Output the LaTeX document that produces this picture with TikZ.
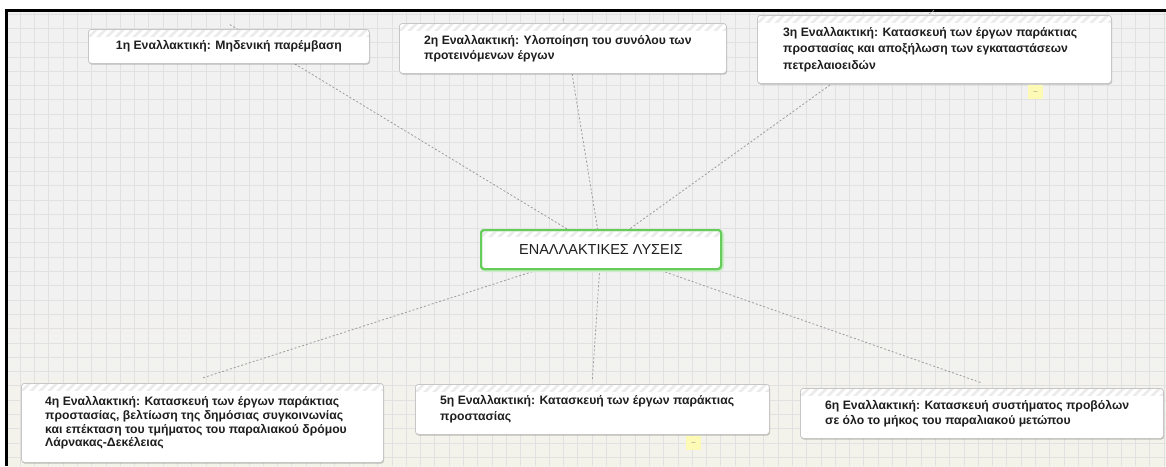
\documentclass[tikz,border=0pt]{standalone}
\usepackage{fontspec}
\setmainfont{Liberation Sans}
\usetikzlibrary{shadows}
\pgfdeclarelayer{bgzero}
\pgfdeclarelayer{bgone}
\pgfsetlayers{bgzero,bgone,main}

\definecolor{bgc}{HTML}{F1F1F1}
\definecolor{bgwarm}{HTML}{F4F3EA}
\definecolor{gridc}{HTML}{E1E1E1}
\definecolor{boxline}{HTML}{C6C6C6}
\definecolor{linkc}{HTML}{9C9C9C}
\definecolor{greenb}{HTML}{66CC5A}
\definecolor{stripec}{HTML}{EBEBEB}
\definecolor{txt}{HTML}{1E1E1E}
\definecolor{yel}{HTML}{FCFAB4}

\newcommand\stripebar[1]{%
  \begin{scope}
    \clip ([xshift=1pt,yshift=-1pt]#1.north west) rectangle ([xshift=-1pt,yshift=-7pt]#1.north east);
    \foreach \k in {0,...,44}
      \draw[stripec, line width=2.6pt] ([xshift=\k*9pt-10pt, yshift=-10pt]#1.north west) -- ++(10pt,10pt);
  \end{scope}}

\begin{document}
\begin{tikzpicture}[x=1pt,y=-1pt,
  box/.style={draw=boxline, line width=0.8pt, fill=white, rounded corners=3pt,
    drop shadow={shadow xshift=0.6pt, shadow yshift=-1.2pt, opacity=0.22, fill=black},
    anchor=north west, inner sep=0pt},
  boxtext/.style={anchor=west, inner sep=0pt, align=left, text=txt,
    font=\bfseries\fontsize{12.2}{15}\selectfont},
  centerbox/.style={draw=greenb, line width=2pt, fill=white, rounded corners=3pt,
    anchor=north west, inner sep=0pt, text=txt, font=\fontsize{14.5}{17}\selectfont},
  link/.style={draw=linkc, line width=0.8pt, dash pattern=on 2pt off 2pt},
  marker/.style={fill=yel, minimum width=15pt, minimum height=14pt, inner sep=0pt,
    text=gray, font=\fontsize{7}{7}\selectfont}
]
\useasboundingbox (0,0) rectangle (1166,466);

% background
\begin{pgfonlayer}{bgzero}
  \fill[white] (0,0) rectangle (1166,466);
  \fill[bgc] (7,11) rectangle (1166,466);
  \shade[top color=bgc, bottom color=bgwarm] (7,290) rectangle (1166,466);
  \foreach \i in {0,...,81}
    \draw[gridc, line width=0.8pt] ({5.8+\i*14.3},11) -- ({5.8+\i*14.3},466);
  \foreach \j in {0,...,32}
    \draw[gridc, line width=0.8pt] (7,{14+\j*14.3}) -- (1166,{14+\j*14.3});
  \fill[black] (5,9) rectangle (1166,11.5);
  \fill[black] (5,9) rectangle (7.5,466);
\end{pgfonlayer}

% boxes
\node[box, minimum width=281pt, minimum height=34pt] (n1) at (88,29) {};
\node[boxtext, anchor=center, align=center] (n1t) at (n1.center) {1η Εναλλακτική: Μηδενική παρέμβαση};

\node[box, minimum width=327pt, minimum height=50pt] (n2) at (399,23) {};
\node[boxtext] (n2t) at ([xshift=25pt]n2.west) {2η Εναλλακτική: Υλοποίηση του συνόλου των\\προτεινόμενων έργων};

\node[box, minimum width=354pt, minimum height=68pt] (n3) at (757,15) {};
\node[boxtext, font=\bfseries\fontsize{12.2}{16.3}\selectfont] (n3t) at ([xshift=26pt]n3.west) {3η Εναλλακτική: Κατασκευή των έργων παράκτιας\\προστασίας και αποξήλωση των εγκαταστάσεων\\πετρελαιοειδών};

\node[box, minimum width=362pt, minimum height=79pt] (n4) at (21,383) {};
\node[boxtext, font=\bfseries\fontsize{12.2}{13.8}\selectfont] (n4t) at ([xshift=24pt]n4.west) {4η Εναλλακτική: Κατασκευή των έργων παράκτιας\\προστασίας, βελτίωση της δημόσιας συγκοινωνίας\\και επέκταση του τμήματος του παραλιακού δρόμου\\Λάρνακας-Δεκέλειας};

\node[box, minimum width=354pt, minimum height=50pt] (n5) at (415,384) {};
\node[boxtext, font=\bfseries\fontsize{12.2}{16}\selectfont] (n5t) at ([xshift=25pt]n5.west) {5η Εναλλακτική: Κατασκευή των έργων παράκτιας\\προστασίας};

\node[box, minimum width=363pt, minimum height=50pt] (n6) at (800,388) {};
\node[boxtext] (n6t) at ([xshift=25pt]n6.west) {6η Εναλλακτική: Κατασκευή συστήματος προβόλων\\σε όλο το μήκος του παραλιακού μετώπου};

% centre
\node[draw=greenb!35, line width=4pt, rounded corners=4pt, anchor=north west, minimum width=240pt, minimum height=39pt, inner sep=0pt] (cg) at (480,229) {};
\node[centerbox, minimum width=240pt, minimum height=39pt] (c) at (480,229) {};

% stripes
\foreach \n in {n1,n2,n3,n4,n5,n6,c} {\stripebar{\n}}
\node[centerbox, fill=none, minimum width=240pt, minimum height=39pt] (cb) at (480,229) {ΕΝΑΛΛΑΚΤΙΚΕΣ ΛΥΣΕΙΣ};

% collapse markers
\node[marker] (m3) at (1035.5,92) {--};
\node[marker] (m5) at (693.5,443) {--};

% connectors
\begin{pgfonlayer}{bgone}
  \foreach \n in {n1,n2,n3,n4,n5,n6}
    \draw[link] (c.center) -- ([yshift=5pt]\n.north);
\end{pgfonlayer}
\end{tikzpicture}
\end{document}
